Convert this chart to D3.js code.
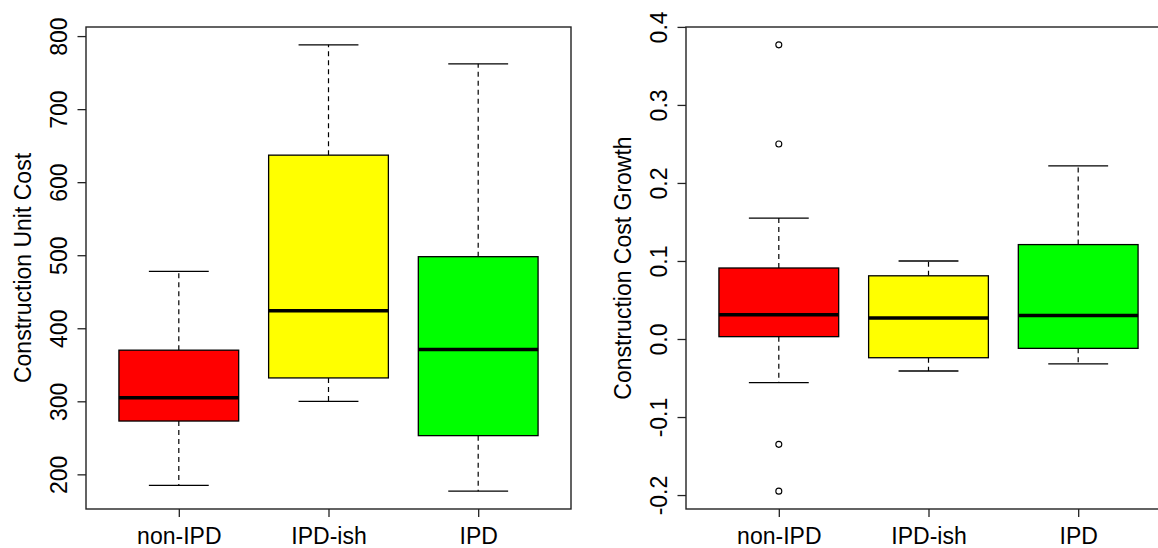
<!DOCTYPE html>
<html>
<head>
<meta charset="utf-8">
<script src="https://cdn.jsdelivr.net/npm/d3@7"></script>
<style>
  html, body { margin: 0; padding: 0; background: #ffffff; }
  svg { display: block; }
  text { font-family: "Liberation Sans", Arial, Helvetica, sans-serif; fill: #000; }
</style>
</head>
<body>
<svg id="chart" width="1158" height="548"></svg>
<script>
// Groups shared by both panels
const categories = ["non-IPD", "IPD-ish", "IPD"];
const boxColors = ["#ff0000", "#ffff00", "#00ff00"];

// Five-number summaries per group: [lower whisker, Q1, median, Q3, upper whisker]
const unitCostStats = [
  [185, 273, 305, 370, 478],
  [300, 332, 424, 637, 788],
  [177, 253, 371, 498, 762]
];
const unitCostOutliers = [[], [], []];
const unitCostTicks = [200, 300, 400, 500, 600, 700, 800];

const growthStats = [
  [-0.056, 0.003, 0.031, 0.091, 0.155],
  [-0.041, -0.024, 0.027, 0.081, 0.100],
  [-0.032, -0.012, 0.030, 0.121, 0.222]
];
const growthOutliers = [[0.377, 0.250, -0.135, -0.195], [], []];
const growthTicks = [-0.2, -0.1, 0.0, 0.1, 0.2, 0.3, 0.4];

const svg = d3.select("#chart");
const FONT = 23;

function drawPanel(cfg) {
  const { left, top, width, height, stats, outliers, ticks, fmt, title } = cfg;
  const g = svg.append("g").attr("transform", `translate(${left},${top})`);

  // y range: data extent padded by 4% on each side
  const allVals = stats.flat().concat(outliers.flat());
  const [lo, hi] = d3.extent(allVals);
  const pad = (hi - lo) * 0.04;
  const y = d3.scaleLinear().domain([lo - pad, hi + pad]).range([height, 0]);

  // x positions 1..n with the same 4% padding around [0.5, n + 0.5]
  const n = categories.length;
  const xSpan = n;
  const x = d3.scaleLinear()
    .domain([0.5 - xSpan * 0.04, n + 0.5 + xSpan * 0.04])
    .range([0, width]);
  const unit = x(1) - x(0);
  const boxW = unit * 0.8;
  const capW = boxW * 0.5;

  categories.forEach((cat, i) => {
    const [wLo, q1, med, q3, wHi] = stats[i];
    const cx = x(i + 1);
    const bg = g.append("g");

    // dashed whiskers
    bg.append("line")
      .attr("x1", cx).attr("x2", cx)
      .attr("y1", y(q3)).attr("y2", y(wHi))
      .attr("stroke", "#000").attr("stroke-width", 1.2)
      .attr("stroke-dasharray", "5,4");
    bg.append("line")
      .attr("x1", cx).attr("x2", cx)
      .attr("y1", y(q1)).attr("y2", y(wLo))
      .attr("stroke", "#000").attr("stroke-width", 1.2)
      .attr("stroke-dasharray", "5,4");

    // whisker caps
    [wLo, wHi].forEach(v => {
      bg.append("line")
        .attr("x1", cx - capW / 2).attr("x2", cx + capW / 2)
        .attr("y1", y(v)).attr("y2", y(v))
        .attr("stroke", "#000").attr("stroke-width", 1.3);
    });

    // box
    bg.append("rect")
      .attr("x", cx - boxW / 2)
      .attr("y", y(q3))
      .attr("width", boxW)
      .attr("height", y(q1) - y(q3))
      .attr("fill", boxColors[i])
      .attr("stroke", "#000").attr("stroke-width", 1.3);

    // median
    bg.append("line")
      .attr("x1", cx - boxW / 2).attr("x2", cx + boxW / 2)
      .attr("y1", y(med)).attr("y2", y(med))
      .attr("stroke", "#000").attr("stroke-width", 3.5);

    // outliers
    bg.selectAll("circle.out")
      .data(outliers[i])
      .enter().append("circle")
      .attr("class", "out")
      .attr("cx", cx).attr("cy", d => y(d))
      .attr("r", 3)
      .attr("fill", "none")
      .attr("stroke", "#000").attr("stroke-width", 1.1);
  });

  // frame
  g.append("rect")
    .attr("x", 0).attr("y", 0)
    .attr("width", width).attr("height", height)
    .attr("fill", "none")
    .attr("stroke", "#222").attr("stroke-width", 1.4);

  // y axis: ticks with labels rotated along the axis
  const yAxis = d3.axisLeft(y).tickValues(ticks).tickSize(8.5).tickSizeOuter(0).tickFormat(fmt);
  const ya = g.append("g").call(yAxis);
  ya.select(".domain").remove();
  ya.selectAll(".tick line").attr("stroke", "#222").attr("stroke-width", 1.3);
  ya.selectAll(".tick text")
    .attr("x", null).attr("dy", null)
    .attr("transform", "translate(-19,0) rotate(-90)")
    .attr("text-anchor", "middle")
    .attr("font-size", FONT)
    .attr("font-family", "Liberation Sans, Arial, sans-serif")
    .attr("fill", "#000");

  // x axis: category ticks and labels
  const xAxis = d3.axisBottom(x).tickValues(d3.range(1, n + 1)).tickSize(8).tickSizeOuter(0)
    .tickFormat(d => categories[d - 1]);
  const xa = g.append("g").attr("transform", `translate(0,${height})`).call(xAxis);
  xa.select(".domain").remove();
  xa.selectAll(".tick line").attr("stroke", "#222").attr("stroke-width", 1.3);
  xa.selectAll(".tick text")
    .attr("y", 35).attr("dy", null)
    .attr("font-size", FONT)
    .attr("font-family", "Liberation Sans, Arial, sans-serif")
    .attr("fill", "#000");

  // y axis title
  g.append("text")
    .attr("transform", `translate(-55,${height / 2}) rotate(-90)`)
    .attr("text-anchor", "middle")
    .attr("font-size", FONT)
    .text(title);
}

drawPanel({
  left: 86, top: 27, width: 485, height: 482,
  stats: unitCostStats, outliers: unitCostOutliers, ticks: unitCostTicks,
  fmt: d3.format("d"), title: "Construction Unit Cost"
});

drawPanel({
  left: 686, top: 27, width: 485, height: 482,
  stats: growthStats, outliers: growthOutliers, ticks: growthTicks,
  fmt: d => d.toFixed(1), title: "Construction Cost Growth"
});
</script>
</body>
</html>
